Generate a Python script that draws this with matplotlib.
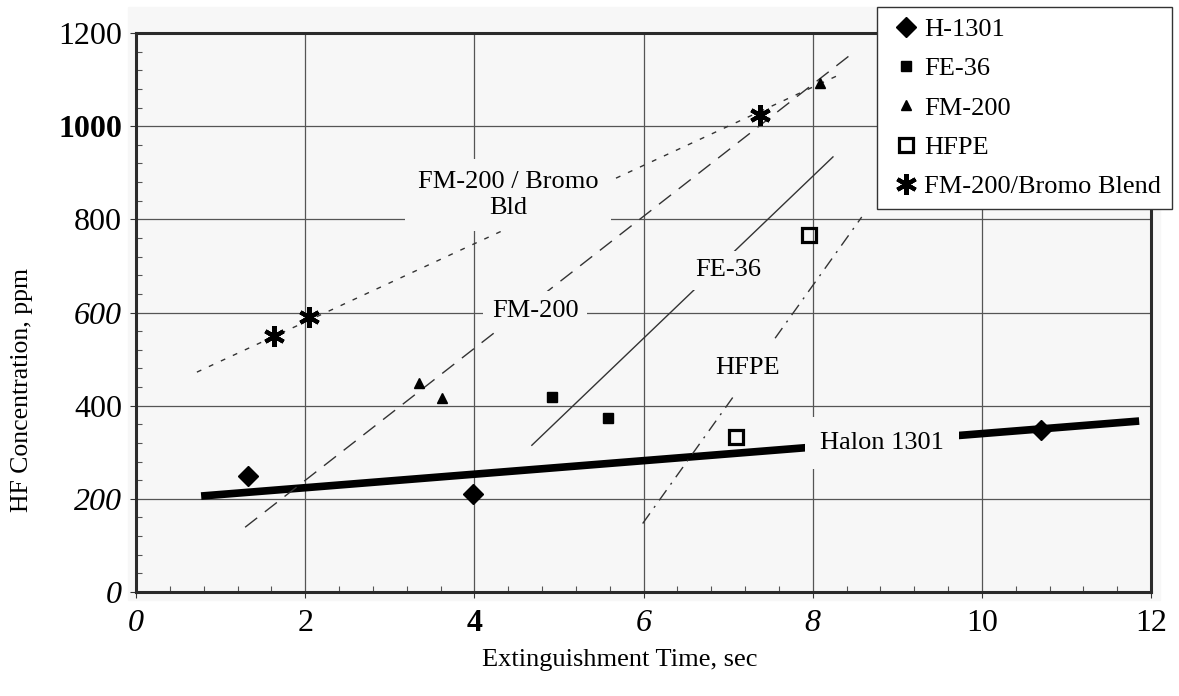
import matplotlib
matplotlib.use("Agg")
import matplotlib.pyplot as plt
from matplotlib.patches import Rectangle
from matplotlib.ticker import MultipleLocator

plt.rcParams['font.family'] = ['Liberation Serif', 'DejaVu Serif']

# ---- data ----
h1301_x = [1.32, 3.98, 10.70]
h1301_y = [249, 210, 348]
fe36_x = [4.92, 5.58]
fe36_y = [418, 373]
fm200_x = [3.34, 3.62, 8.09]
fm200_y = [449, 416, 1093]
hfpe_x = [7.09, 7.96]
hfpe_y = [333, 766]
bromo_x = [1.63, 2.04, 7.38]
bromo_y = [550, 590, 1025]

# trend lines (end points)
halon_line_x = [0.77, 11.86]
halon_line_y = [206, 367]
fm200_line_x = [1.29, 8.46]
fm200_line_y = [139, 1155]
bromo_line_x = [0.72, 8.30]
bromo_line_y = [472, 1109]
fe36_line_x = [4.68, 8.24]
fe36_line_y = [315, 934]
hfpe_line_x = [5.99, 8.58]
hfpe_line_y = [147, 805]

x_ticks = [0, 2, 4, 6, 8, 10, 12]
y_ticks = [0, 200, 400, 600, 800, 1000, 1200]
x_styles = ['italic', 'normal', 'bold', 'italic', 'italic', 'normal', 'normal']
y_styles = ['italic', 'italic', 'normal', 'italic', 'normal', 'bold', 'normal']

W, H = 1179, 696
fig = plt.figure(figsize=(W / 100, H / 100), dpi=100)
bg = '#f7f7f7'
fig.patches.append(Rectangle((128 / W, 1 - 600 / H), (1160 - 128) / W, (600 - 7) / H,
                             transform=fig.transFigure, color=bg, zorder=-5))
ax = fig.add_axes([136 / W, 1 - 592 / H, (1151 - 136) / W, (592 - 33) / H])
ax.set_zorder(1)
ax.set_facecolor(bg)
ax.set_xlim(0, 12)
ax.set_ylim(0, 1200)
ax.set_xticks(x_ticks)
ax.set_yticks(y_ticks)
ax.xaxis.set_minor_locator(MultipleLocator(0.4))
ax.yaxis.set_minor_locator(MultipleLocator(40))
ax.grid(True, which='major', color='#555555', lw=0.9, zorder=0.5)
ax.set_axisbelow(True)
for s in ax.spines.values():
    s.set_linewidth(2.2)
    s.set_color('#2a2a2a')
ax.tick_params(axis='both', which='major', labelsize=23, length=4, direction='out', color='#333333')
ax.tick_params(axis='x', which='major', pad=8)
ax.tick_params(axis='y', which='major', pad=6)
ax.tick_params(axis='both', which='minor', length=4, direction='in', color='#555555', width=0.8)
for lbl, st in zip(ax.get_xticklabels(), x_styles):
    if st == 'bold':
        lbl.set_fontweight('bold')
    else:
        lbl.set_fontstyle(st)
for lbl, st in zip(ax.get_yticklabels(), y_styles):
    if st == 'bold':
        lbl.set_fontweight('bold')
    else:
        lbl.set_fontstyle(st)

# trend lines
lc = '#333333'
ax.plot(halon_line_x, halon_line_y, color='black', lw=5.5, solid_capstyle='butt', zorder=2)
ax.plot(fm200_line_x, fm200_line_y, color=lc, lw=1.0, dashes=(11, 7), zorder=2)
ax.plot(bromo_line_x, bromo_line_y, color=lc, lw=1.0, dashes=(3.5, 6), zorder=2)
ax.plot(fe36_line_x, fe36_line_y, color=lc, lw=1.0, zorder=2)
ax.plot(hfpe_line_x, hfpe_line_y, color=lc, lw=1.0, dashes=(9, 5, 1.5, 5), zorder=2)

# labels with background boxes
tb = dict(facecolor=bg, edgecolor='none', pad=6)
tkw = dict(fontsize=19, ha='center', va='center', zorder=3)
ax.text(4.40, 852, 'FM-200 / Bromo\nBld', bbox=dict(facecolor=bg, edgecolor='none', pad=9),
        linespacing=1.2, **tkw)
ax.text(4.72, 604, 'FM-200', bbox=tb, **tkw)
ax.text(7.0, 691, 'FE-36', bbox=tb, **tkw)
ax.text(7.23, 480, 'HFPE', bbox=dict(facecolor=bg, edgecolor='none', pad=10), **tkw)
ax.text(8.82, 320, 'Halon 1301', bbox=dict(facecolor=bg, edgecolor='none', pad=11), **tkw)

# data points
ax.plot(h1301_x, h1301_y, 'D', color='black', ms=10.5, ls='none', zorder=4, label='H-1301')
ax.plot(fe36_x, fe36_y, 's', color='black', ms=7, ls='none', zorder=4, label='FE-36')
ax.plot(fm200_x, fm200_y, '^', color='black', ms=6.5, ls='none', zorder=4, label='FM-200')
ax.plot(hfpe_x, hfpe_y, 's', mfc='none', mec='black', mew=2.3, ms=10, ls='none', zorder=4, label='HFPE')
ax.plot(bromo_x, bromo_y, marker=(6, 2, 0), color='black', mew=3, ms=15, ls='none', zorder=4,
        label='FM-200/Bromo Blend')

leg = fig.legend(loc='upper left', bbox_to_anchor=(877 / W, 1 - 7 / H), bbox_transform=fig.transFigure,
                 fontsize=19, frameon=True, fancybox=False, edgecolor='#333333', framealpha=1,
                 handlelength=1.4, handletextpad=0.0, labelspacing=0.6, borderpad=0.4,
                 borderaxespad=0)
leg.set_zorder(5)
leg.get_frame().set_linewidth(1.0)
leg.get_frame().set_facecolor('white')

fig.text(620 / W, 1 - 660 / H, 'Extinguishment Time, sec', fontsize=19, ha='center', va='center')
fig.text(22 / W, 1 - 390 / H, 'HF Concentration, ppm', fontsize=18.5, ha='center', va='center',
         rotation=90)

fig.savefig('out.png', dpi=100)
